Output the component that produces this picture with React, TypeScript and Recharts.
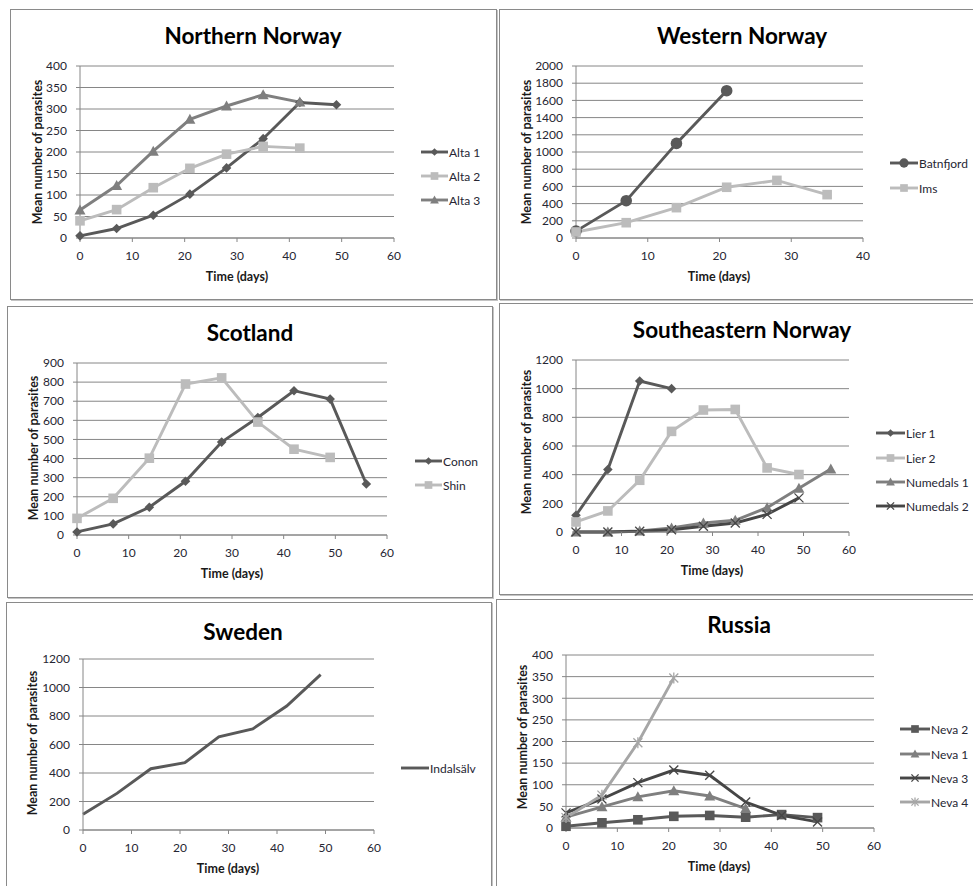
import React from "react";
import { LineChart, Line, XAxis, YAxis, CartesianGrid } from "recharts";

// ---------- data ----------
const days = [0, 7, 14, 21, 28, 35, 42, 49, 56];

const alta1 = [5, 22, 53, 102, 163, 231, 315, 310];
const alta2 = [40, 66, 117, 162, 195, 213, 209];
const alta3 = [65, 122, 202, 276, 307, 333, 316];

const batnfjord = [80, 434, 1100, 1713];
const ims = [70, 178, 353, 590, 670, 504];

const conon = [16, 58, 145, 281, 486, 615, 755, 711, 267];
const shin = [87, 192, 402, 790, 822, 591, 449, 406];

const lier1 = [117, 436, 1053, 1000];
const lier2 = [70, 147, 361, 702, 851, 855, 447, 401];
const numedals1 = [0, 0, 7, 28, 63, 82, 170, 305, 440];
const numedals2 = [0, 0, 5, 16, 40, 63, 123, 238];

const indalsalv = [110, 257, 430, 472, 653, 709, 870, 1090];

const neva2 = [4, 12, 19, 27, 29, 25, 31, 24];
const neva1 = [25, 49, 72, 86, 74, 45];
const neva3 = [35, 67, 105, 134, 122, 60, 29, 14];
const neva4 = [24, 76, 197, 347];

const xTicks60 = [0, 10, 20, 30, 40, 50, 60];
const xTicks40 = [0, 10, 20, 30, 40];

// ---------- helpers ----------
const toPoints = (vals: number[]) => vals.map((v, i) => ({ x: days[i], y: v }));

const DARK = "#595959";
const DARKER = "#464646";
const MID = "#7f7f7f";
const LIGHT = "#bcbcbc";
const LIGHT2 = "#a6a6a6";
const GRID = "#868686";
const FONT = "Lato, 'Open Sans', sans-serif";

type Shape = "diamond" | "square" | "triangle" | "circle" | "x" | "star" | "none";

const Marker = ({ shape, cx, cy, color, scale = 1 }: any) => {
  if (cx == null || cy == null) return null;
  const s = scale;
  switch (shape as Shape) {
    case "diamond":
      return <polygon points={`${cx},${cy - 4.8 * s} ${cx + 4.8 * s},${cy} ${cx},${cy + 4.8 * s} ${cx - 4.8 * s},${cy}`} fill={color} />;
    case "square":
      return <rect x={cx - 4.8 * s} y={cy - 4.8 * s} width={9.6 * s} height={9.6 * s} fill={color} />;
    case "triangle":
      return <polygon points={`${cx},${cy - 5.5 * s} ${cx + 5.5 * s},${cy + 4.5 * s} ${cx - 5.5 * s},${cy + 4.5 * s}`} fill={color} />;
    case "circle":
      return <circle cx={cx} cy={cy} r={5.8 * s} fill={color} />;
    case "x":
      return (
        <g stroke={color} strokeWidth={1.3}>
          <line x1={cx - 4.5 * s} y1={cy - 4.5 * s} x2={cx + 4.5 * s} y2={cy + 4.5 * s} />
          <line x1={cx - 4.5 * s} y1={cy + 4.5 * s} x2={cx + 4.5 * s} y2={cy - 4.5 * s} />
        </g>
      );
    case "star":
      return (
        <g stroke={color} strokeWidth={1.3}>
          <line x1={cx - 4.5 * s} y1={cy - 4.5 * s} x2={cx + 4.5 * s} y2={cy + 4.5 * s} />
          <line x1={cx - 4.5 * s} y1={cy + 4.5 * s} x2={cx + 4.5 * s} y2={cy - 4.5 * s} />
          <line x1={cx} y1={cy - 5.5 * s} x2={cx} y2={cy + 5.5 * s} />
        </g>
      );
    default:
      return null;
  }
};

type Series = { name: string; values: number[]; color: string; shape: Shape };

type Panel = {
  title: string;
  border: [number, number, number, number];
  plot: [number, number, number, number];
  xDomain: [number, number];
  xTicks: number[];
  yMax: number;
  yStep: number;
  titlePos: [number, number];
  xLabelPos: [number, number];
  yLabelPos: [number, number];
  legendX: number;
  legendLineW: number;
  legendRows: number[];
  series: Series[];
};

const range = (max: number, step: number) => {
  const out: number[] = [];
  for (let v = 0; v <= max + 1e-9; v += step) out.push(v);
  return out;
};

const panels: Panel[] = [
  {
    title: "Northern Norway",
    border: [10, 9, 497, 300],
    plot: [80, 66, 394, 238],
    xDomain: [0, 60],
    xTicks: xTicks60,
    yMax: 400,
    yStep: 50,
    titlePos: [253, 35],
    xLabelPos: [237, 276],
    yLabelPos: [37, 152],
    legendX: 421,
    legendLineW: 27,
    legendRows: [152, 176, 200],
    series: [
      { name: "Alta 1", values: alta1, color: DARK, shape: "diamond" },
      { name: "Alta 2", values: alta2, color: LIGHT, shape: "square" },
      { name: "Alta 3", values: alta3, color: MID, shape: "triangle" },
    ],
  },
  {
    title: "Western Norway",
    border: [499, 9, 985, 300],
    plot: [576, 66, 863, 238],
    xDomain: [0, 40],
    xTicks: xTicks40,
    yMax: 2000,
    yStep: 200,
    titlePos: [742, 35],
    xLabelPos: [719, 276],
    yLabelPos: [526, 152],
    legendX: 890,
    legendLineW: 28,
    legendRows: [163, 188],
    series: [
      { name: "Batnfjord", values: batnfjord, color: DARK, shape: "circle" },
      { name: "Ims", values: ims, color: LIGHT, shape: "square" },
    ],
  },
  {
    title: "Scotland",
    border: [7, 306, 493, 598],
    plot: [77, 363, 387, 535],
    xDomain: [0, 60],
    xTicks: xTicks60,
    yMax: 900,
    yStep: 100,
    titlePos: [250, 332],
    xLabelPos: [232, 573],
    yLabelPos: [33, 448],
    legendX: 415,
    legendLineW: 27,
    legendRows: [461, 485],
    series: [
      { name: "Conon", values: conon, color: DARK, shape: "diamond" },
      { name: "Shin", values: shin, color: LIGHT, shape: "square" },
    ],
  },
  {
    title: "Southeastern Norway",
    border: [499, 303, 985, 595],
    plot: [576, 360, 849, 532],
    xDomain: [0, 60],
    xTicks: xTicks60,
    yMax: 1200,
    yStep: 200,
    titlePos: [742, 329],
    xLabelPos: [712, 570],
    yLabelPos: [526, 442],
    legendX: 876,
    legendLineW: 29,
    legendRows: [433, 458, 482, 506],
    series: [
      { name: "Lier 1", values: lier1, color: DARK, shape: "diamond" },
      { name: "Lier 2", values: lier2, color: LIGHT, shape: "square" },
      { name: "Numedals 1", values: numedals1, color: MID, shape: "triangle" },
      { name: "Numedals 2", values: numedals2, color: DARKER, shape: "x" },
    ],
  },
  {
    title: "Sweden",
    border: [6, 602, 492, 900],
    plot: [83, 659, 374, 830],
    xDomain: [0, 60],
    xTicks: xTicks60,
    yMax: 1200,
    yStep: 200,
    titlePos: [243, 631],
    xLabelPos: [228, 868],
    yLabelPos: [32, 743],
    legendX: 401,
    legendLineW: 28,
    legendRows: [768],
    series: [{ name: "Indalsälv", values: indalsalv, color: DARK, shape: "none" }],
  },
  {
    title: "Russia",
    border: [496, 599, 985, 900],
    plot: [566, 655, 874, 828],
    xDomain: [0, 60],
    xTicks: xTicks60,
    yMax: 400,
    yStep: 50,
    titlePos: [739, 624],
    xLabelPos: [719, 866],
    yLabelPos: [522, 737],
    legendX: 900,
    legendLineW: 30,
    legendRows: [729, 754, 778, 802],
    series: [
      { name: "Neva 2", values: neva2, color: DARK, shape: "square" },
      { name: "Neva 1", values: neva1, color: MID, shape: "triangle" },
      { name: "Neva 3", values: neva3, color: DARKER, shape: "x" },
      { name: "Neva 4", values: neva4, color: LIGHT2, shape: "star" },
    ],
  },
];

const YW = 60;
const PADT = 10;
const PADR = 10;
const XH = 30;
const PADB = 10;

const tickStyle = { fill: "#262633", fontSize: 12, fontFamily: FONT };

const PanelChart = ({ p }: { p: Panel }) => {
  const [bl, bt, br, bb] = p.border;
  const [pl, pt, pr, pb] = p.plot;
  const plotW = pr - pl;
  const plotH = pb - pt;
  const W = YW + plotW + PADR;
  const H = PADT + plotH + XH + PADB;
  return (
    <>
      <div
        style={{
          position: "absolute",
          left: bl,
          top: bt,
          width: br - bl - 2,
          height: bb - bt - 2,
          border: "1px solid #8a8a8a",
          boxShadow: "1px 1px 0 #c4c4c4",
          background: "#fff",
        }}
      />
      <div
        style={{
          position: "absolute",
          left: p.titlePos[0],
          top: p.titlePos[1],
          transform: "translate(-50%, -50%)",
          fontFamily: FONT,
          fontWeight: 700,
          fontSize: 22.5,
          color: "#000",
          whiteSpace: "nowrap",
        }}
      >
        {p.title}
      </div>
      <div style={{ position: "absolute", left: pl - YW, top: pt - PADT }}>
        <LineChart width={W} height={H} margin={{ top: PADT, right: PADR, bottom: PADB, left: 0 }}>
          <CartesianGrid vertical={false} stroke={GRID} strokeWidth={1} />
          <XAxis
            type="number"
            dataKey="x"
            domain={p.xDomain}
            ticks={p.xTicks}
            interval={0}
            allowDuplicatedCategory={false}
            height={XH}
            stroke={GRID}
            tickSize={4}
            tickMargin={9}
            tick={tickStyle}
          />
          <YAxis
            type="number"
            dataKey="y"
            domain={[0, p.yMax]}
            ticks={range(p.yMax, p.yStep)}
            interval={0}
            width={YW}
            stroke={GRID}
            tickSize={4}
            tickMargin={9}
            tick={tickStyle}
          />
          {p.series.map((s) => (
            <Line
              key={s.name}
              data={toPoints(s.values)}
              dataKey="y"
              name={s.name}
              type="linear"
              stroke={s.color}
              strokeWidth={2.9}
              isAnimationActive={false}
              dot={
                s.shape === "none"
                  ? false
                  : (props: any) => (
                      <Marker key={`${s.name}-${props.index}`} shape={s.shape} cx={props.cx} cy={props.cy} color={s.color} />
                    )
              }
              activeDot={false}
            />
          ))}
        </LineChart>
      </div>
      <div
        style={{
          position: "absolute",
          left: p.xLabelPos[0],
          top: p.xLabelPos[1],
          transform: "translate(-50%, -50%)",
          fontFamily: FONT,
          fontWeight: 700,
          fontSize: 12.5,
          color: "#1a1a1a",
          whiteSpace: "nowrap",
        }}
      >
        Time (days)
      </div>
      <div
        style={{
          position: "absolute",
          left: p.yLabelPos[0],
          top: p.yLabelPos[1],
          transform: "translate(-50%, -50%) rotate(-90deg)",
          fontFamily: FONT,
          fontWeight: 700,
          fontSize: 12.5,
          color: "#1a1a1a",
          whiteSpace: "nowrap",
        }}
      >
        Mean number of parasites
      </div>
      {p.series.map((s, i) => (
        <div
          key={s.name}
          style={{
            position: "absolute",
            left: p.legendX,
            top: p.legendRows[i] - 8,
            height: 16,
            display: "flex",
            alignItems: "center",
            fontFamily: FONT,
            fontSize: 12,
            color: "#262633",
            whiteSpace: "nowrap",
          }}
        >
          <svg width={p.legendLineW} height={16} style={{ display: "block" }}>
            <line x1={0} y1={8} x2={p.legendLineW} y2={8} stroke={s.color} strokeWidth={2.9} />
            {s.shape !== "none" && <Marker shape={s.shape} cx={p.legendLineW / 2} cy={8} color={s.color} scale={0.8} />}
          </svg>
          <span style={{ marginLeft: 1 }}>{s.name}</span>
        </div>
      ))}
    </>
  );
};

export default function App() {
  return (
    <div
      style={{
        position: "absolute",
        left: 0,
        top: 0,
        width: 973,
        height: 886,
        overflow: "hidden",
        background: "#fff",
      }}
    >
      {panels.map((p) => (
        <PanelChart key={p.title} p={p} />
      ))}
    </div>
  );
}
